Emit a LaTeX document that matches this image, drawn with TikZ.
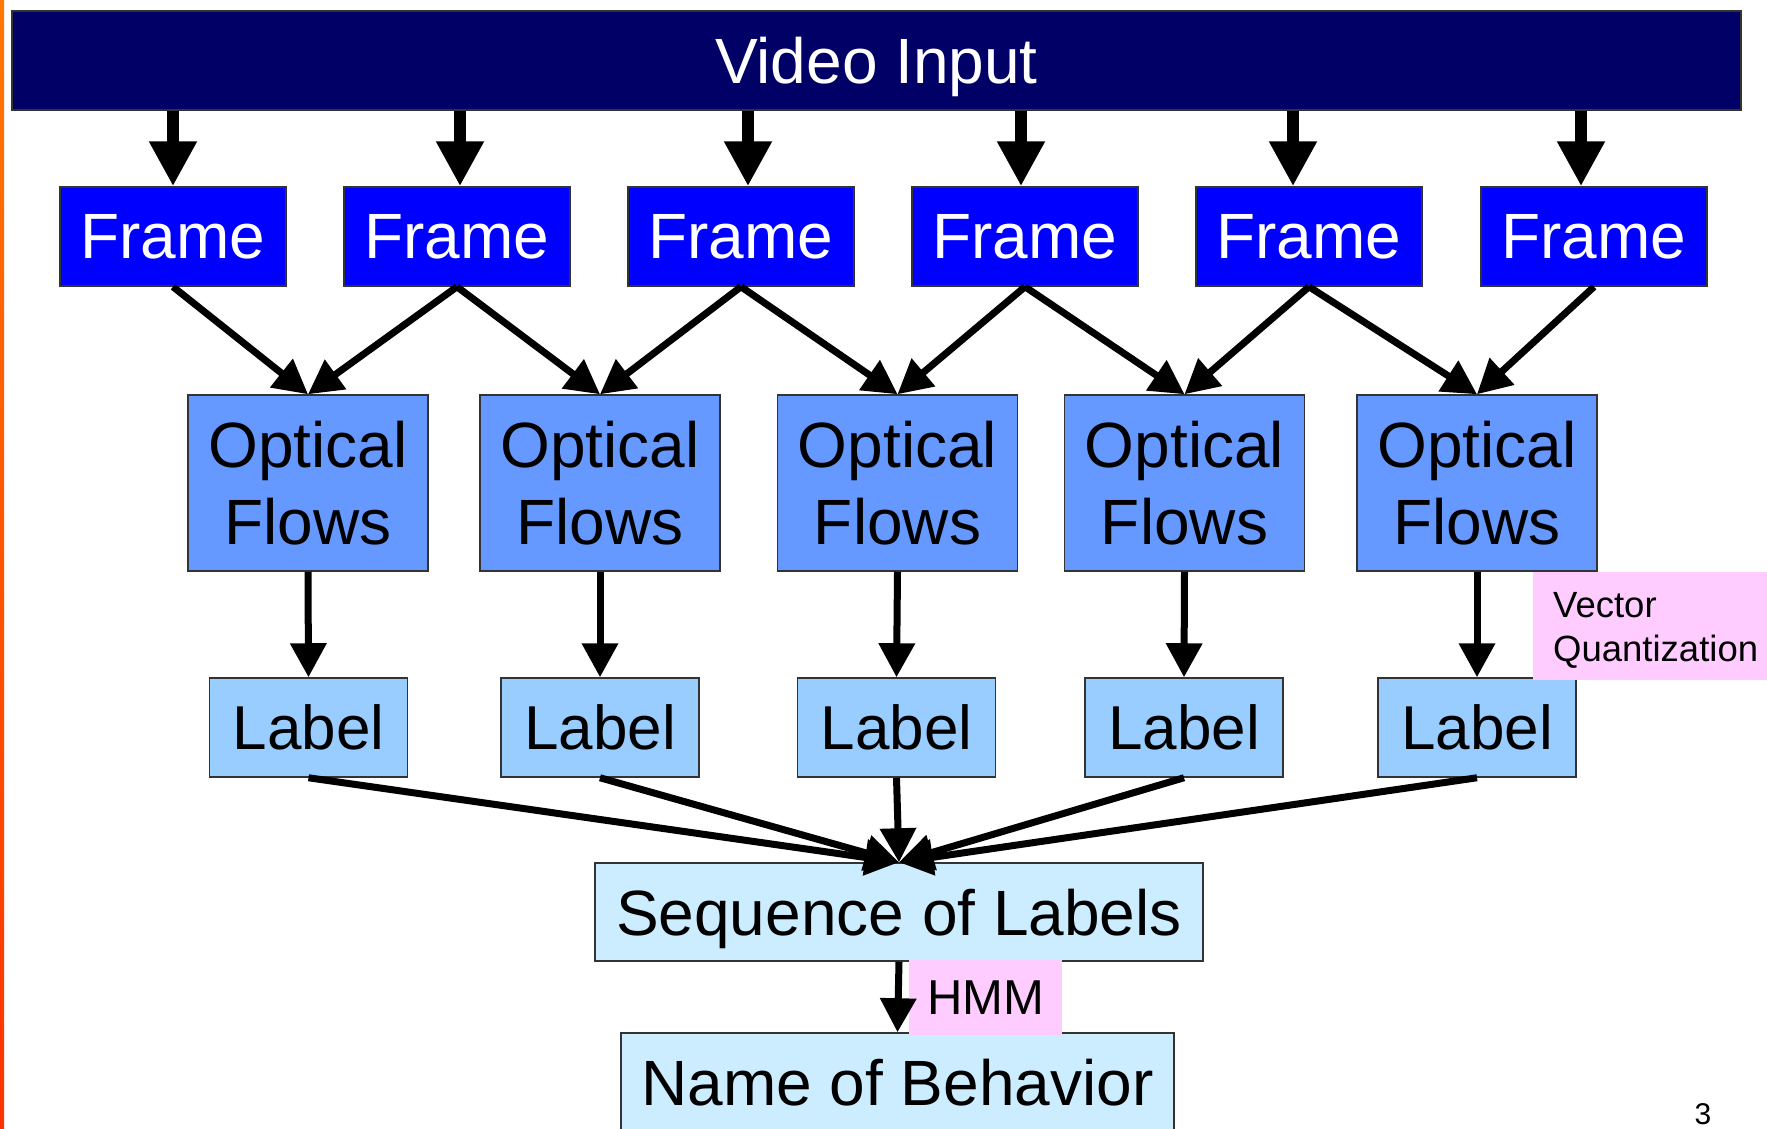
\documentclass[tikz,border=0pt]{standalone}
\usepackage{fontspec}
\setmainfont{Liberation Sans}
\usetikzlibrary{arrows.meta}
\definecolor{barblue}{HTML}{000066}
\definecolor{frameblue}{HTML}{0000FF}
\definecolor{flowblue}{HTML}{6699FF}
\definecolor{labelblue}{HTML}{99CCFF}
\definecolor{seqblue}{HTML}{CCECFF}
\definecolor{pinkbg}{HTML}{FFCCFF}
\definecolor{edgegray}{HTML}{333333}
\begin{document}
\begin{tikzpicture}[x=1pt,y=-1pt,
  boxbase/.style={draw=edgegray,line width=1.5pt,inner sep=0pt,align=center},
  videobox/.style={boxbase,fill=barblue,text=white,minimum width=1729pt,minimum height=99pt,text depth=0pt,font=\fontsize{64}{76}\selectfont},
  framebox/.style={boxbase,fill=frameblue,text=white,minimum width=226pt,minimum height=99pt,font=\fontsize{64}{76}\selectfont},
  flowbox/.style={boxbase,fill=flowblue,minimum width=240pt,minimum height=176pt,font=\fontsize{64}{77}\selectfont},
  labelbox/.style={boxbase,fill=labelblue,minimum width=198pt,minimum height=99pt,font=\fontsize{62}{74}\selectfont},
  seqbox/.style={boxbase,fill=seqblue,minimum height=98pt,text depth=0pt,font=\fontsize{64}{76}\selectfont},
  pinknote/.style={fill=pinkbg,inner sep=0pt},
  bigarr/.style={line width=12pt,-{Triangle[length=45pt,width=45pt]}},
  arr/.style={line width=7pt,-{Triangle[length=34pt,width=35pt]}}
]
\useasboundingbox (0,0) rectangle (1767,1128);
\clip (0,0) rectangle (1767,1128);
\shade[top color={rgb,255:red,255;green,119;blue,0},bottom color={rgb,255:red,255;green,51;blue,0}] (0,0) rectangle (4,1128);

% Video input bar
\node[videobox] (vid) at (876.5,60.5) {Video Input};

% Frames
\foreach \i/\x in {1/173,2/457,3/741,4/1025,5/1309,6/1594}
  \node[framebox] (f\i) at (\x,236.5) {Frame};

% Optical flows
\foreach \i/\x in {1/308,2/600,3/897.5,4/1184.5,5/1477}
  \node[flowbox] (o\i) at (\x,483) {Optical\\Flows};

% Labels
\foreach \i/\x in {1/308.5,2/600,3/896.5,4/1184,5/1477}
  \node[labelbox] (l\i) at (\x,727.5) {Label};

% Sequence and name
\node[seqbox,minimum width=608pt] (seq) at (899,912) {Sequence of Labels};
\node[seqbox,minimum width=553pt] (name) at (897.5,1082) {Name of Behavior};

% Pink notes
\node[pinknote,minimum width=153pt,minimum height=75pt,font=\fontsize{49}{58}\selectfont] (hmm) at (985.5,997.5) {HMM};
\node[pinknote,minimum width=240pt,minimum height=108pt,anchor=north west] (vq) at (1533,572) {};
\node[anchor=west,inner sep=0pt,align=left,font=\fontsize{36.5}{44}\selectfont] (vqt) at (1553,630) {Vector\\Quantization};

% Page number
\node[anchor=base,inner sep=0pt,font=\fontsize{30}{36}\selectfont] (pg) at (1703,1124) {3};

% Arrows from video input to frames
\foreach \i/\dx in {1/0,2/3,3/7,4/-4,5/-16,6/-13}{
  \path ([xshift=\dx pt]f\i.north) coordinate (t\i);
  \draw[bigarr] (t\i |- vid.south) -- (t\i);
}

% Frames to optical flows
\foreach \a/\b in {1/1,2/1,2/2,3/2,3/3,4/3,4/4,5/4,5/5,6/5}
  \draw[arr] (f\a.south) -- (o\b.north);

% Optical flows to labels
\foreach \i in {1,...,5}
  \draw[arr] (o\i.south) -- (l\i.north);

% Labels to sequence
\foreach \i in {1,...,5}
  \draw[arr] (l\i.south) -- (seq.north);

% Sequence to name
\draw[arr] (seq.south) -- (name.north);
\end{tikzpicture}
\end{document}
